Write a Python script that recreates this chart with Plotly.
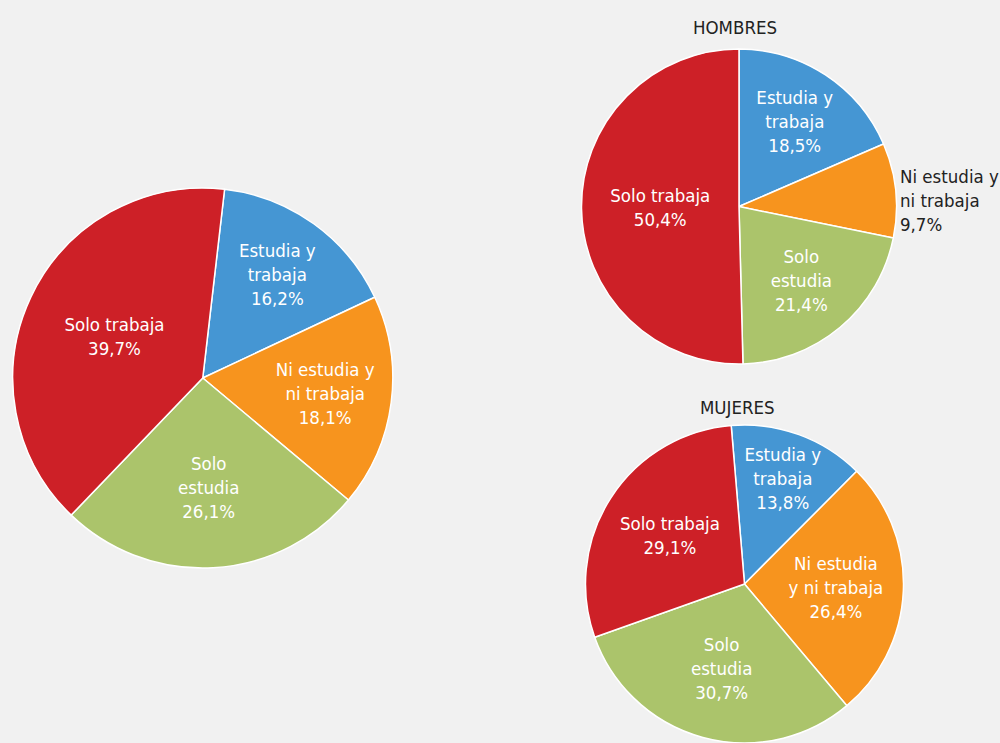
import math
import plotly.graph_objects as go

categories = ["Estudia y trabaja", "Ni estudia y ni trabaja", "Solo estudia", "Solo trabaja"]
colors = ["#4596D3", "#F7941E", "#ABC46B", "#CD2027"]

total_values = [16.2, 18.1, 26.1, 39.7]
hombres_values = [18.5, 9.7, 21.4, 50.4]
mujeres_values = [13.8, 26.4, 30.7, 29.1]

total_labels = ["Estudia y<br>trabaja", "Ni estudia y<br>ni trabaja", "Solo<br>estudia", "Solo trabaja"]
hombres_labels = ["Estudia y<br>trabaja", "Ni estudia y<br>ni trabaja", "Solo<br>estudia", "Solo trabaja"]
mujeres_labels = ["Estudia y<br>trabaja", "Ni estudia<br>y ni trabaja", "Solo<br>estudia", "Solo trabaja"]

FONT = "Liberation Sans Narrow, DejaVu Sans Condensed, Arial Narrow, sans-serif"
W, H = 1000, 743
FS = 18.5


def fmt(v):
    return f"{v:.1f}".replace(".", ",") + "%"


def texts(labels, values):
    return [f"{l}<br>{fmt(v)}" for l, v in zip(labels, values)]


pie_total_dom = dict(x=[0.0125, 0.393], y=[0.2355, 0.747])
pie_h_dom = dict(x=[0.5815, 0.8965], y=[0.510, 0.934])
pie_m_dom = dict(x=[0.585, 0.904], y=[0.0, 0.428])
rot_total, rot_h, rot_m = 6.6, 0, -4.8

fig = go.Figure()

fig.add_trace(go.Pie(
    labels=categories, values=total_values, text=texts(total_labels, total_values),
    textinfo="text", sort=False, direction="clockwise", rotation=rot_total,
    marker=dict(colors=colors, line=dict(color="white", width=1.5)),
    textposition="inside", insidetextorientation="horizontal",
    textfont=dict(family=FONT, size=FS, color="white"),
    domain=pie_total_dom, hoverinfo="label+percent", showlegend=False,
))

# Hombres: the small slice's label is drawn outside as a left-aligned annotation
h_text = texts(hombres_labels, hombres_values)
h_inside = [t if i != 1 else "" for i, t in enumerate(h_text)]
fig.add_trace(go.Pie(
    labels=categories, values=hombres_values, text=h_inside,
    textinfo="text", sort=False, direction="clockwise", rotation=rot_h,
    marker=dict(colors=colors, line=dict(color="white", width=1.5)),
    textposition="inside", insidetextorientation="horizontal",
    textfont=dict(family=FONT, size=FS, color="white"),
    domain=pie_h_dom, hoverinfo="label+percent", showlegend=False,
))

# position of the outside label derived from the slice's mid angle
cx = (pie_h_dom["x"][0] + pie_h_dom["x"][1]) / 2 * W
cy = (1 - (pie_h_dom["y"][0] + pie_h_dom["y"][1]) / 2) * H
r = min((pie_h_dom["x"][1] - pie_h_dom["x"][0]) * W, (pie_h_dom["y"][1] - pie_h_dom["y"][0]) * H) / 2
mid = rot_h + (sum(hombres_values[:1]) + hombres_values[1] / 2) / sum(hombres_values) * 360
ex = cx + r * math.sin(math.radians(mid))
ey = cy - r * math.cos(math.radians(mid))
fig.add_annotation(text=h_text[1], x=ex / W, y=1 - ey / H,
                   xref="paper", yref="paper", xanchor="left", yanchor="middle", align="left",
                   xshift=2, yshift=-10, showarrow=False,
                   font=dict(family=FONT, size=FS, color="#222222"))

fig.add_trace(go.Pie(
    labels=categories, values=mujeres_values, text=texts(mujeres_labels, mujeres_values),
    textinfo="text", sort=False, direction="clockwise", rotation=rot_m,
    marker=dict(colors=colors, line=dict(color="white", width=1.5)),
    textposition="inside", insidetextorientation="horizontal",
    textfont=dict(family=FONT, size=FS, color="white"),
    domain=pie_m_dom, hoverinfo="label+percent", showlegend=False,
))

fig.add_annotation(text="HOMBRES", x=0.735, y=1 - 27 / H, xref="paper", yref="paper",
                   xanchor="center", yanchor="middle",
                   showarrow=False, font=dict(family=FONT, size=FS, color="#222222"))
fig.add_annotation(text="MUJERES", x=0.737, y=1 - 407 / H, xref="paper", yref="paper",
                   xanchor="center", yanchor="middle",
                   showarrow=False, font=dict(family=FONT, size=FS, color="#222222"))

fig.update_layout(
    width=W, height=H, autosize=False,
    margin=dict(l=0, r=0, t=0, b=0),
    paper_bgcolor="#F1F1F1", plot_bgcolor="#F1F1F1",
    uniformtext=dict(minsize=FS, mode="show"),
    font=dict(family=FONT),
)

fig.write_html("out.html", config={"responsive": False, "displayModeBar": False},
               post_script="document.body.style.margin='0';document.body.style.overflow='hidden';")
